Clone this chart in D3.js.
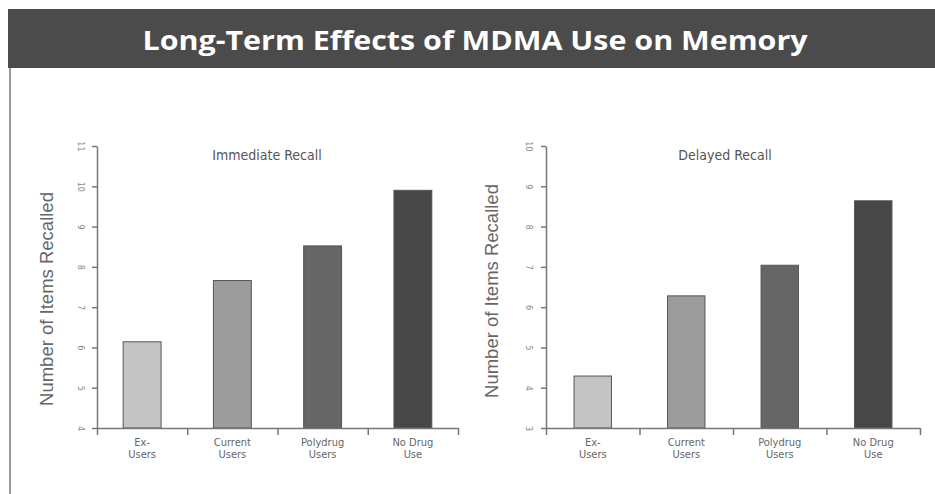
<!DOCTYPE html>
<html><head><meta charset="utf-8">
<script src="https://cdn.jsdelivr.net/npm/d3@7"></script>
<style>body{margin:0;background:#fff}svg{display:block}</style>
</head><body>
<svg id="c" width="935" height="494"></svg>
<script>
const title = "Long-Term Effects of MDMA Use on Memory";
const categories = ["Ex-|Users", "Current|Users", "Polydrug|Users", "No Drug|Use"];
const immediateValues = [6.14, 7.66, 8.52, 9.9];
const delayedValues = [4.29, 6.28, 7.04, 8.64];
const immediateTicks = [4, 5, 6, 7, 8, 9, 10, 11];
const delayedTicks = [3, 4, 5, 6, 7, 8, 9, 10];
const barColors = ["#c4c4c4", "#9c9c9c", "#666666", "#474747"];
const yLabel = "Number of Items Recalled";

const svg = d3.select("#c");
const narrow = "'Liberation Sans Narrow','Arial Narrow','DejaVu Sans Condensed',sans-serif";

// title bar
svg.append("rect").attr("x", 8).attr("y", 9).attr("width", 927).attr("height", 59).attr("fill", "#4b4b4b");
svg.append("line").attr("x1", 10).attr("x2", 10).attr("y1", 68).attr("y2", 494).attr("stroke", "#777").attr("stroke-width", 1.5);
svg.append("text").attr("x", 475).attr("y", 50).attr("text-anchor", "middle")
  .attr("fill", "#fff").attr("font-family", "'Open Sans','DejaVu Sans',sans-serif")
  .attr("font-weight", "bold").attr("font-size", 27)
  .attr("textLength", 665).attr("lengthAdjust", "spacingAndGlyphs")
  .text(title);

function panel(cfg) {
  const g = svg.append("g");
  const y = d3.scaleLinear().domain(cfg.domain).range([428, 146]);
  const x = d3.scaleBand().domain(categories).range([cfg.x0, cfg.x1]).paddingInner(cfg.pad).paddingOuter(cfg.pad / 2);
  const xb = d3.scaleLinear().domain([0, categories.length]).range([cfg.x0, cfg.x1]);

  // bars
  g.selectAll("rect.bar").data(cfg.values).join("rect")
    .attr("x", (d, i) => x(categories[i]))
    .attr("width", x.bandwidth())
    .attr("y", d => y(d))
    .attr("height", d => y(cfg.domain[0]) - y(d))
    .attr("fill", (d, i) => barColors[i])
    .attr("stroke", "#555").attr("stroke-width", 1);

  // y axis
  const ya = g.append("g").attr("transform", `translate(${cfg.x0},0)`)
    .call(d3.axisLeft(y).tickValues(cfg.ticks).tickSize(5).tickSizeOuter(0).tickFormat(d3.format("d")));
  ya.select(".domain").attr("stroke", "#777").attr("stroke-width", 1.5);
  ya.selectAll(".tick line").attr("stroke", "#777").attr("stroke-width", 1.5);
  ya.selectAll(".tick text").attr("fill", "#888").attr("font-size", 9).attr("font-family", narrow)
    .attr("x", 0).attr("dy", 0).attr("text-anchor", "middle")
    .attr("transform", `translate(${cfg.tickLabelX - cfg.x0},0) rotate(90)`);

  // x axis with boundary ticks
  const xa = g.append("g").attr("transform", "translate(0,428)")
    .call(d3.axisBottom(xb).tickValues(d3.range(categories.length + 1)).tickSize(7).tickSizeOuter(0).tickFormat(""));
  xa.select(".domain").attr("stroke", "#777").attr("stroke-width", 1.5);
  xa.selectAll(".tick line").attr("stroke", "#777").attr("stroke-width", 1.5);

  // category labels
  categories.forEach(c => {
    const parts = c.split("|");
    const t = g.append("text").attr("x", x(c) + x.bandwidth() / 2).attr("y", 446)
      .attr("text-anchor", "middle").attr("fill", "#666").attr("font-size", 11).attr("font-family", narrow);
    parts.forEach((p, j) => t.append("tspan").attr("x", x(c) + x.bandwidth() / 2).attr("dy", j ? 12 : 0).text(p));
  });

  // subtitle
  g.append("text").attr("x", cfg.subX).attr("y", 160).attr("text-anchor", "middle")
    .attr("fill", "#555").attr("font-size", 14).attr("font-family", narrow).text(cfg.sub);

  // y label
  g.append("text").attr("transform", `translate(${cfg.labX},${cfg.labY}) rotate(-90)`)
    .attr("text-anchor", "middle").attr("fill", "#666").attr("font-size", 18.5)
    .attr("font-family", "'Liberation Sans',Arial,sans-serif").text(yLabel);
}

panel({domain: [4, 11], ticks: immediateTicks, values: immediateValues, x0: 97, x1: 458, pad: 0.58,
  tickLabelX: 78, sub: "Immediate Recall", subX: 267, labX: 53, labY: 299});
panel({domain: [3, 10], ticks: delayedTicks, values: delayedValues, x0: 546, x1: 920, pad: 0.6,
  tickLabelX: 526, sub: "Delayed Recall", subX: 725, labX: 498, labY: 291});
</script>
</body></html>
